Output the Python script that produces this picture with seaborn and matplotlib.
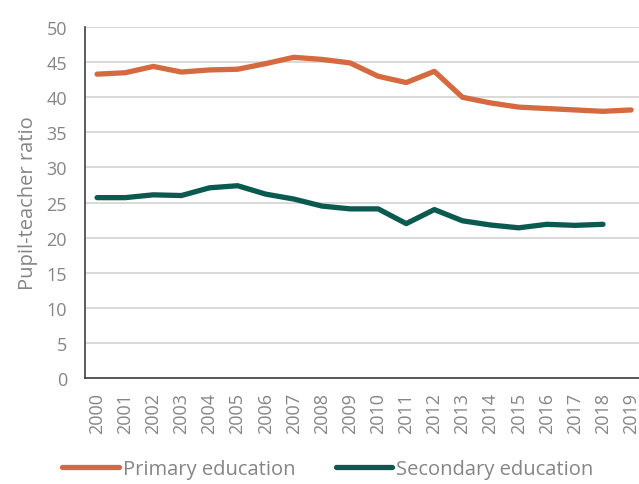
import pandas as pd
import matplotlib
matplotlib.use("Agg")
import matplotlib.pyplot as plt
import seaborn as sns

# Données
years = list(range(2000, 2020))
primary = [43.3, 43.5, 44.4, 43.6, 43.9, 44.0, 44.8, 45.7, 45.4, 44.9,
           43.0, 42.1, 43.7, 40.0, 39.2, 38.6, 38.4, 38.2, 38.0, 38.2]
secondary = [25.7, 25.7, 26.1, 26.0, 27.1, 27.4, 26.2, 25.5, 24.5, 24.1,
             24.1, 22.0, 24.0, 22.4, 21.8, 21.4, 21.9, 21.75, 21.9, None]
series_names = ["Primary education", "Secondary education"]
colors = ["#d56a40", "#0b5a50"]

df = pd.DataFrame({"year": years * 2,
                   "ratio": primary + secondary,
                   "level": [series_names[0]] * len(years) + [series_names[1]] * len(years)})
df = df.dropna()

sns.set_style("white")
plt.rcParams["font.family"] = ["Open Sans", "DejaVu Sans"]

grey = "#858585"

fig = plt.figure(figsize=(6.39, 4.85), dpi=100)
ax = fig.add_axes([0.133, 0.2186, 0.867, 0.7234])

sns.lineplot(data=df, x="year", y="ratio", hue="level", palette=colors,
             linewidth=3.8, ax=ax, legend=False, solid_capstyle="round")

ax.set_ylim(0, 50)
ax.set_yticks(range(0, 51, 5))
ax.set_xlim(1999.57, 2019.28)
ax.set_xticks(years)
ax.set_xticklabels([str(y) for y in years], rotation=90)
ax.grid(axis="y", color="#d9d9d9", linewidth=1.4)
ax.set_axisbelow(True)
for s in ["top", "right"]:
    ax.spines[s].set_visible(False)
for s in ["left", "bottom"]:
    ax.spines[s].set_color("#404040")
    ax.spines[s].set_linewidth(1.2)
ax.tick_params(axis="y", length=0, pad=13, labelsize=13, labelcolor=grey)
ax.tick_params(axis="x", length=0, pad=10, labelsize=13, labelcolor=grey)
ax.set_xlabel("")
ax.set_ylabel("Pupil-teacher ratio", fontsize=14.5, color=grey, labelpad=6)

handles = [plt.Line2D([], [], color=c, linewidth=3.8, solid_capstyle="round") for c in colors]
fig.legend(handles, series_names, loc="lower center", bbox_to_anchor=(0.513, -0.028),
           ncol=2, frameon=False, fontsize=14.5, handlelength=2.8, handletextpad=0.2,
           columnspacing=2.0, labelcolor=grey)

fig.savefig("out.png", dpi=100)
